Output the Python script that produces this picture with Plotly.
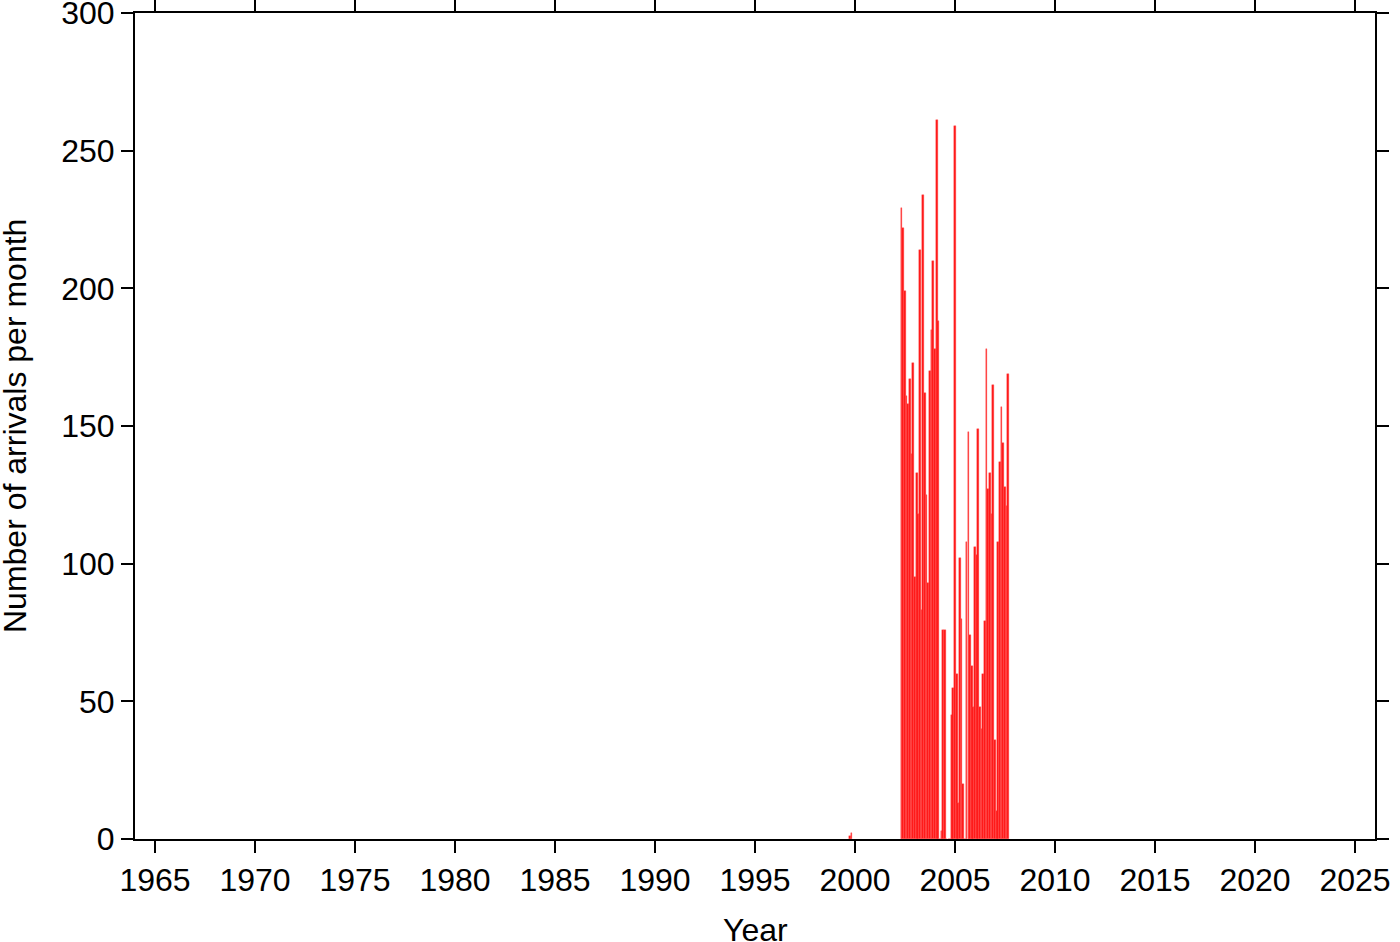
import pandas as pd
import plotly.graph_objects as go

# Early isolated months
early_months = ["1999-10-01", "1999-11-01"]
early_values = [1, 2]

# Monthly arrivals starting May 2002
main_start = "2002-05-01"
main_values = [229, 222, 199, 161, 158, 167, 140, 173, 95, 133, 118, 214, 83, 234,
               162, 125, 93, 170, 185, 210, 178, 261, 188, 0, 3, 76, 76, 0, 0, 0,
               45, 55, 259, 60, 13, 102, 80, 20, 0, 108, 148, 74, 63, 48, 106, 103,
               149, 48, 40, 60, 79, 178, 127, 133, 118, 165, 36, 10, 108, 137, 157,
               144, 128, 121, 169]

tick_years = list(range(1965, 2026, 5))
y_ticks = [0, 50, 100, 150, 200, 250, 300]

main_months = pd.date_range(main_start, periods=len(main_values), freq="MS")
x = list(pd.to_datetime(early_months)) + list(main_months)
y = early_values + main_values

month_ms = 30.4 * 86400000

fig = go.Figure()
fig.add_trace(go.Bar(
    x=x, y=y, width=[month_ms] * len(x),
    marker=dict(color="#ff1414", line=dict(color="#ff5050", width=0.4)),
    showlegend=False,
))

font_family = "Liberation Sans, Arial, Helvetica, sans-serif"
fig.update_layout(
    width=1400, height=942,
    margin=dict(l=135, r=25, t=13, b=103),
    paper_bgcolor="white", plot_bgcolor="white",
    font=dict(family=font_family, size=32, color="black"),
    bargap=0,
)
fig.update_xaxes(
    type="date",
    automargin=False,
    ticklabeloverflow="allow",
    range=["1964-01-01", "2026-01-01"],
    tickvals=[f"{yy}-01-01" for yy in tick_years],
    ticktext=[str(yy) for yy in tick_years],
    ticks="outside", ticklen=12, tickwidth=1.5, tickcolor="black",
    showline=True, linecolor="black", linewidth=2, mirror="ticks",
    showgrid=False, zeroline=False,
    tickfont=dict(size=32),
)
fig.update_yaxes(
    automargin=False,
    ticklabeloverflow="allow",
    range=[0, 300],
    tickvals=y_ticks,
    ticks="outside", ticklen=12, tickwidth=1.5, tickcolor="black",
    showline=True, linecolor="black", linewidth=2, mirror="ticks",
    showgrid=False, zeroline=False,
    tickfont=dict(size=32),
)
fig.add_annotation(
    text="Number of arrivals per month", textangle=-90,
    xref="paper", yref="paper", x=(15 - 135) / 1240, y=0.5,
    xanchor="center", yanchor="middle", showarrow=False,
    font=dict(size=32, family=font_family, color="black"),
)
fig.add_annotation(
    text="Year",
    xref="paper", yref="paper", x=0.5, y=(839 - 930) / 826,
    xanchor="center", yanchor="middle", showarrow=False,
    font=dict(size=32, family=font_family, color="black"),
)

fig.write_html("out.html", config={"displayModeBar": False},
               post_script="document.body.style.margin='0';document.body.style.overflow='hidden';")
